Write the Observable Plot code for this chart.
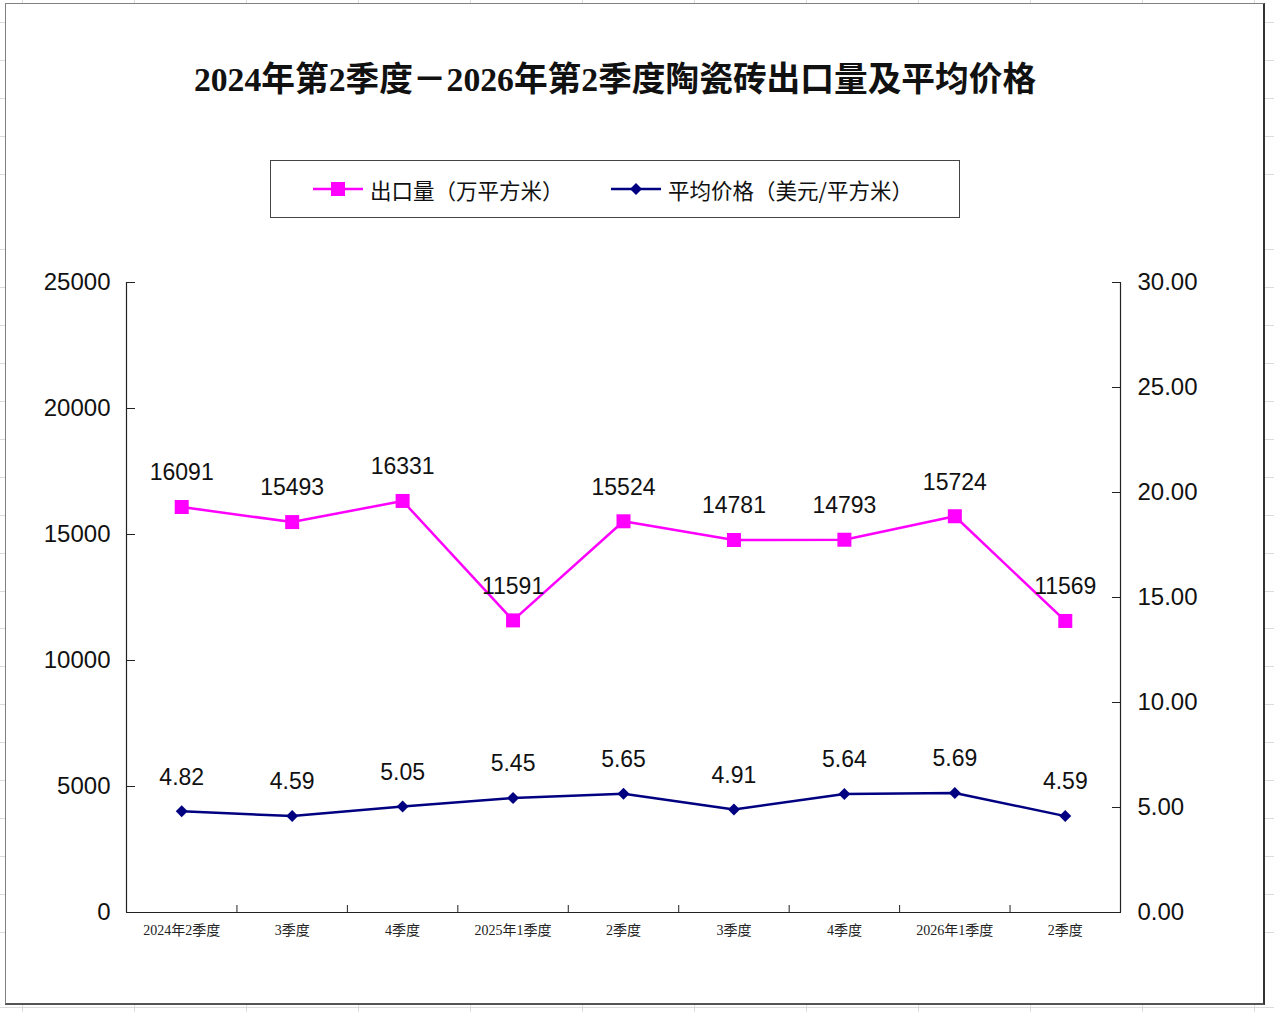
<!DOCTYPE html>
<html>
<head>
<meta charset="utf-8">
<script src="https://cdn.jsdelivr.net/npm/d3@7"></script>
<script src="https://cdn.jsdelivr.net/npm/@observablehq/plot@0.6"></script>
<style>
  html, body { margin: 0; padding: 0; }
  body {
    width: 1274px; height: 1012px; position: relative; overflow: hidden;
    background-color: #fff;
    background-image:
      repeating-linear-gradient(to right, transparent 0, transparent 22px, #dcdcdc 22px, #dcdcdc 23px, transparent 23px, transparent 112px),
      repeating-linear-gradient(to bottom, transparent 0, transparent 22px, #dcdcdc 22px, #dcdcdc 23px, transparent 23px, transparent 37.9px);
  }
  #box {
    position: absolute; left: 5px; top: 3px; width: 1260px; height: 1002px;
    box-sizing: border-box; background: #fff;
    border-top: 1px solid #808080; border-left: 1px solid #808080;
    border-right: 2px solid #333; border-bottom: 2px solid #555;
  }
  #title {
    position: absolute; left: 0; width: 1230px; top: 56px; text-align: center;
    font-family: "Liberation Serif", "Noto Sans CJK SC", serif; font-weight: bold;
    font-size: 33.7px; color: #111; line-height: 48px; white-space: nowrap;
  }
  #legend {
    position: absolute; left: 270px; top: 160px; width: 690px; height: 58px;
    box-sizing: border-box; border: 1px solid #444; background: #fff;
    font-family: "Noto Sans CJK SC", sans-serif; font-size: 21.5px; color: #111;
  }
  .item { position: absolute; top: 0; height: 56px; display: flex; align-items: center; white-space: nowrap; }
  .item svg { margin-right: 7px; }
  #chart { position: absolute; left: 5px; top: 240px; }
</style>
</head>
<body>
<div id="box"></div>
<div id="title"></div>
<div id="legend"></div>
<div id="chart"></div>
<script>
const categories = ["2024年2季度", "3季度", "4季度", "2025年1季度", "2季度", "3季度", "4季度", "2026年1季度", "2季度"];
const exportVolume = [16091, 15493, 16331, 11591, 15524, 14781, 14793, 15724, 11569];
const avgPrice = [4.82, 4.59, 5.05, 5.45, 5.65, 4.91, 5.64, 5.69, 4.59];
const leftTicks = [0, 5000, 10000, 15000, 20000, 25000];
const rightTicks = [0, 5, 10, 15, 20, 25, 30];
const titleText = "2024年第2季度－2026年第2季度陶瓷砖出口量及平均价格";
const seriesNames = ["出口量（万平方米）", "平均价格（美元/平方米）"];
const colors = ["#FF00FF", "#000080"];

const leftMax = 25000, rightMax = 30;
const toLeft = p => p * leftMax / rightMax;

document.getElementById("title").textContent = titleText;

// legend
const legend = document.getElementById("legend");
const mkItem = (left, color, marker, label) => {
  const div = document.createElement("div");
  div.className = "item";
  div.style.left = left + "px";
  const m = marker === "square"
    ? `<rect x="18" y="5" width="14" height="14" fill="${color}"/>`
    : `<path d="M25 6 L31 12 L25 18 L19 12 Z" fill="${color}"/>`;
  div.innerHTML = `<svg width="50" height="24"><line x1="0" y1="12" x2="50" y2="12" stroke="${color}" stroke-width="2.5"/>${m}</svg><span>${label}</span>`;
  legend.appendChild(div);
};
mkItem(42, colors[0], "square", seriesNames[0]);
mkItem(340, colors[1], "diamond", seriesNames[1]);

const vol = categories.map((c, i) => ({i, c, v: exportVolume[i]}));
const pr = categories.map((c, i) => ({i, c, p: avgPrice[i], y: toLeft(avgPrice[i])}));
const boundaries = d3.range(0.5, categories.length - 1, 1);

const plot = Plot.plot({
  width: 1260,
  height: 720,
  marginLeft: 121,
  marginRight: 145,
  marginTop: 42,
  marginBottom: 48,
  style: {background: "transparent", color: "#111", overflow: "visible"},
  x: {type: "linear", domain: [-0.5, categories.length - 0.5], axis: null, label: null},
  y: {domain: [0, leftMax], axis: null, label: null},
  marks: [
    // axis lines
    Plot.ruleY([0], {stroke: "#222", strokeWidth: 1.2}),
    Plot.ruleX([-0.5, categories.length - 0.5], {y1: 0, y2: leftMax, stroke: "#222", strokeWidth: 1.2}),
    // x axis ticks at category boundaries, pointing inward
    Plot.axisX({ticks: boundaries, tickSize: -7, tickFormat: () => "", stroke: "#222", label: null}),
    Plot.axisX({ticks: d3.range(categories.length), tickSize: 0, tickPadding: 13, label: null,
      tickFormat: i => categories[i], fontSize: 14, fill: "#222",
      fontFamily: "Liberation Serif, Noto Sans CJK SC, serif"}),
    // left axis
    Plot.axisY({ticks: leftTicks, tickSize: -9, tickFormat: () => "", stroke: "#222", label: null}),
    Plot.axisY({ticks: leftTicks, tickSize: 0, tickPadding: 16, tickFormat: d => String(d), label: null,
      fontSize: 24, fill: "#111", fontFamily: "Liberation Sans, Arial, sans-serif"}),
    // right axis
    Plot.axisY({anchor: "right", ticks: rightTicks.map(toLeft), tickSize: -9, tickFormat: () => "", stroke: "#222", label: null}),
    Plot.axisY({anchor: "right", ticks: rightTicks.map(toLeft), tickSize: 0, tickPadding: 17, label: null,
      tickFormat: d => (d * rightMax / leftMax).toFixed(2),
      fontSize: 24, fill: "#111", fontFamily: "Liberation Sans, Arial, sans-serif"}),
    // export volume series
    Plot.line(vol, {x: "i", y: "v", stroke: colors[0], strokeWidth: 2.5}),
    Plot.dot(vol, {x: "i", y: "v", symbol: "square", r: 7.9, fill: colors[0], stroke: "none"}),
    // price series
    Plot.line(pr, {x: "i", y: "y", stroke: colors[1], strokeWidth: 2.5}),
    Plot.dot(pr, {x: "i", y: "y", symbol: "diamond2", r: 5.4, fill: colors[1], stroke: "none"}),
    // labels
    Plot.text(vol, {x: "i", y: "v", text: d => String(d.v), dy: -34, fontSize: 23, fill: "#111",
      fontFamily: "Liberation Sans, Arial, sans-serif"}),
    Plot.text(pr, {x: "i", y: "y", text: d => d.p.toFixed(2), dy: -34, fontSize: 23, fill: "#111",
      fontFamily: "Liberation Sans, Arial, sans-serif"})
  ]
});
document.getElementById("chart").appendChild(plot);
</script>
</body>
</html>
